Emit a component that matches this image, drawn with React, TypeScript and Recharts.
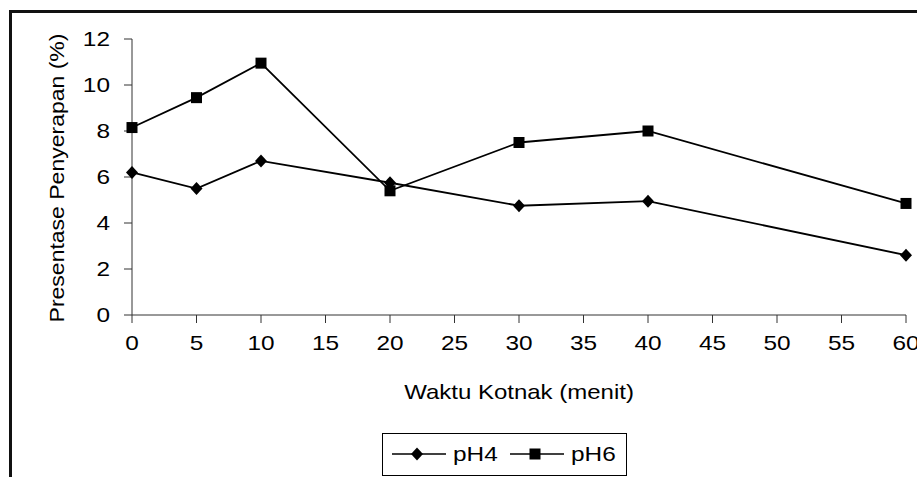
import { LineChart, Line, XAxis, YAxis, Label } from 'recharts'

// contact time (minutes) and absorption percentage per pH
const minutes = [0, 5, 10, 20, 30, 40, 60]
const ph4 = [6.2, 5.5, 6.7, 5.75, 4.75, 4.95, 2.6]
const ph6 = [8.15, 9.45, 10.95, 5.4, 7.5, 8.0, 4.85]

const xTicks = [0, 5, 10, 15, 20, 25, 30, 35, 40, 45, 50, 55, 60]
const yTicks = [0, 2, 4, 6, 8, 10, 12]
const seriesNames = ['pH4', 'pH6']
const xTitle = 'Waktu Kotnak (menit)'
const yTitle = 'Presentase Penyerapan (%)'

const data = minutes.map((m, i) => ({ m, pH4: ph4[i], pH6: ph6[i] }))

const FONT = '"Liberation Sans", Arial, sans-serif'
const WIDEN = 1.22

function Diamond({ cx, cy }: { cx: number; cy: number }) {
  return (
    <polygon
      points={`${cx},${cy - 6.5} ${cx + 6},${cy} ${cx},${cy + 6.5} ${cx - 6},${cy}`}
      fill="#000"
    />
  )
}

function Square({ cx, cy }: { cx: number; cy: number }) {
  return <rect x={cx - 5.5} y={cy - 5.5} width={11} height={11} fill="#000" />
}

function XTick(props: any) {
  const { x, y, payload } = props
  return (
    <text
      transform={`translate(${x},${y}) scale(${WIDEN},1)`}
      textAnchor="middle"
      dy="0.71em"
      fontSize={20}
      fontFamily={FONT}
      fill="#000"
    >
      {payload.value}
    </text>
  )
}

function YTick(props: any) {
  const { x, y, payload } = props
  return (
    <text
      transform={`translate(${x},${y}) scale(${WIDEN},1)`}
      textAnchor="end"
      dy="0.355em"
      fontSize={20}
      fontFamily={FONT}
      fill="#000"
    >
      {payload.value}
    </text>
  )
}

function XTitle(props: any) {
  const vb = props.viewBox
  const cx = vb.x + vb.width / 2
  return (
    <text
      transform={`translate(${cx},${vb.y + 77}) scale(1.2,1)`}
      textAnchor="middle"
      dy="0.355em"
      fontSize={20}
      fontFamily={FONT}
      fill="#000"
    >
      {xTitle}
    </text>
  )
}

function YTitle(props: any) {
  const vb = props.viewBox
  const cy = vb.y + vb.height / 2 + 1
  return (
    <text
      transform={`translate(57,${cy}) rotate(-90) scale(1.15,1)`}
      textAnchor="middle"
      dy="0.355em"
      fontSize={20}
      fontFamily={FONT}
      fill="#000"
    >
      {yTitle}
    </text>
  )
}

function LegendBox() {
  const items = [
    { name: seriesNames[0], x: 10, Marker: Diamond },
    { name: seriesNames[1], x: 128, Marker: Square },
  ]
  return (
    <svg
      width={245}
      height={43}
      style={{ position: 'absolute', left: 382, top: 433 }}
    >
      <rect x={0.5} y={0.5} width={244} height={42} fill="#fff" stroke="#000" />
      {items.map(({ name, x, Marker }) => (
        <g key={name}>
          <line x1={x} y1={21} x2={x + 54} y2={21} stroke="#000" strokeWidth={1.6} />
          <Marker cx={x + 25} cy={21} />
          <text
            transform={`translate(${x + 61},21) scale(${WIDEN},1)`}
            dy="0.355em"
            fontSize={20}
            fontFamily={FONT}
            fill="#000"
          >
            {name}
          </text>
        </g>
      ))}
    </svg>
  )
}

export default function App() {
  return (
    <div
      style={{
        position: 'fixed',
        left: 0,
        top: 0,
        width: 917,
        height: 477,
        overflow: 'hidden',
        background: '#fff',
      }}
    >
      <div
        style={{
          position: 'absolute',
          left: 9,
          top: 10,
          width: 1000,
          height: 1000,
          border: '3px solid #111',
          boxSizing: 'border-box',
        }}
      />
      <LineChart
        width={917}
        height={477}
        data={data}
        margin={{ top: 39, right: 11, left: 92, bottom: 132 }}
        style={{ position: 'absolute', left: 0, top: 0 }}
      >
        <XAxis
          dataKey="m"
          type="number"
          domain={[0, 60]}
          ticks={xTicks}
          interval={0}
          tickSize={8}
          tickMargin={13}
          height={30}
          stroke="#333"
          tick={<XTick />}
        >
          <Label content={<XTitle />} />
        </XAxis>
        <YAxis
          type="number"
          domain={[0, 12]}
          ticks={yTicks}
          interval={0}
          tickSize={8}
          tickMargin={14}
          width={40}
          stroke="#333"
          tick={<YTick />}
        >
          <Label content={<YTitle />} />
        </YAxis>
        <Line
          dataKey="pH4"
          name={seriesNames[0]}
          stroke="#000"
          strokeWidth={1.8}
          isAnimationActive={false}
          dot={(p: any) => <Diamond key={`d4-${p.index}`} cx={p.cx} cy={p.cy} />}
        />
        <Line
          dataKey="pH6"
          name={seriesNames[1]}
          stroke="#000"
          strokeWidth={1.8}
          isAnimationActive={false}
          dot={(p: any) => <Square key={`d6-${p.index}`} cx={p.cx} cy={p.cy} />}
        />
      </LineChart>
      <LegendBox />
    </div>
  )
}
